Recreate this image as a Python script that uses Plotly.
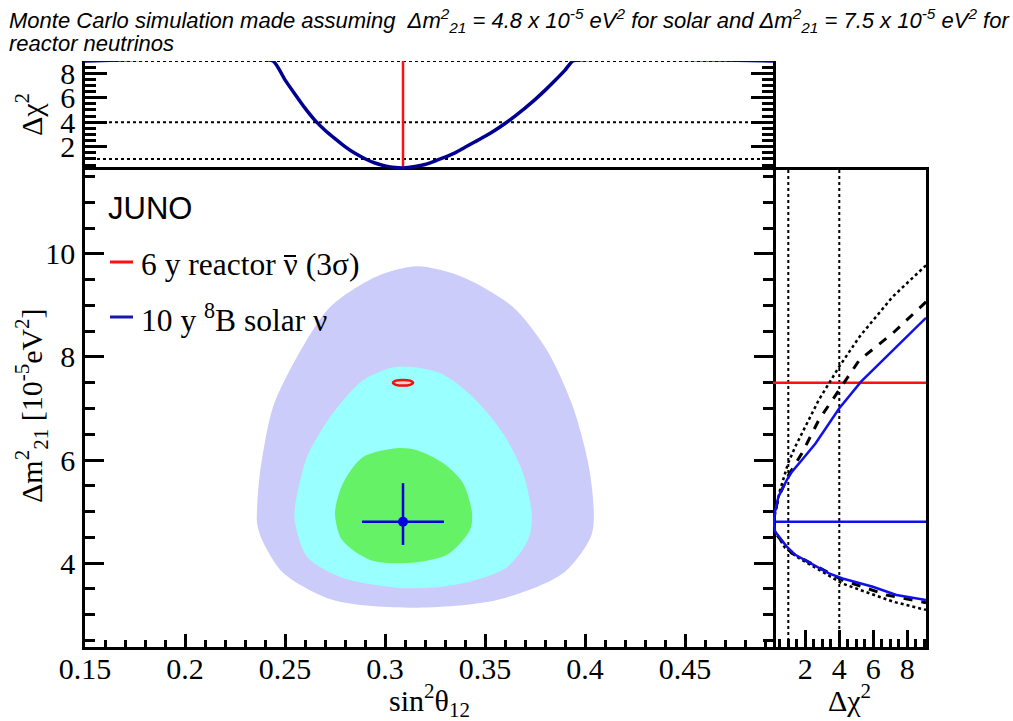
import plotly.graph_objects as go

# ---------------- data ----------------
# Solar Δχ² profile along sin²θ12 (top panel, drawn clamped at the frame top)
s12_profile = [0.15, 0.244, 0.25, 0.255, 0.26, 0.265, 0.27, 0.275, 0.28, 0.285, 0.29,
               0.295, 0.30, 0.305, 0.309, 0.315, 0.32, 0.326, 0.33, 0.335, 0.34, 0.345,
               0.35, 0.355, 0.36, 0.365, 0.37, 0.375, 0.38, 0.385, 0.39, 0.394, 0.494]
chi2_s12 = [9.0, 9.0, 7.46, 6.29, 5.15, 4.15, 3.35, 2.66, 2.01, 1.46, 1.02,
            0.67, 0.44, 0.30, 0.27, 0.38, 0.55, 0.9, 1.15, 1.5, 1.95, 2.4,
            2.85, 3.35, 3.9, 4.5, 5.15, 5.85, 6.6, 7.4, 8.25, 9.0, 9.0]

# Best-fit points
solar_best_s12 = 0.309
solar_best_dm = 4.8
solar_err_s12 = 0.0205
solar_err_dm_up = 0.75
solar_err_dm_down = 0.45
reactor_best_s12 = 0.309
reactor_best_dm = 7.5

# Solar allowed regions (sin²θ12, Δm²21)
outer_s12 = [0.316, 0.339, 0.364, 0.381, 0.394, 0.4025, 0.4035, 0.389, 0.356, 0.314,
             0.274, 0.249, 0.2385, 0.236, 0.236, 0.2375, 0.244, 0.256, 0.2725, 0.295, 0.316]
outer_dm = [9.76, 9.55, 8.97, 8.13, 7.03, 5.75, 4.58, 3.8, 3.28, 3.13,
            3.28, 3.81, 4.45, 4.78, 5.03, 5.75, 7.03, 8.0, 8.97, 9.55, 9.76]
middle_s12 = [0.306, 0.3275, 0.344, 0.359, 0.369, 0.3735, 0.3715, 0.361, 0.339, 0.311,
              0.2775, 0.261, 0.255, 0.255, 0.261, 0.2725, 0.289, 0.306]
middle_dm = [7.81, 7.69, 7.22, 6.52, 5.75, 4.89, 4.45, 3.92, 3.61, 3.51,
             3.73, 4.12, 4.78, 5.09, 6.06, 6.83, 7.55, 7.81]
inner_s12 = [0.306, 0.316, 0.329, 0.339, 0.3435, 0.3425, 0.331, 0.311, 0.2925, 0.2785,
             0.275, 0.279, 0.289, 0.306]
inner_dm = [6.23, 6.19, 5.94, 5.55, 4.97, 4.64, 4.16, 4.0, 4.06, 4.45,
            4.97, 5.55, 6.06, 6.23]

# Reactor 3σ contour
reactor_s12 = [0.304, 0.3055, 0.309, 0.3125, 0.314, 0.3125, 0.309, 0.3055, 0.304]
reactor_dm = [7.5, 7.54, 7.555, 7.54, 7.5, 7.46, 7.445, 7.46, 7.5]

# Δχ² profiles along Δm²21 (right panel)
solid_chi2 = [9.1, 7.16, 5.28, 3.99, 2.6, 1.8, 1.21, 0.91, 0.42, 0.22, 0.15,
              0.22, 0.91, 1.41, 3.39, 4.19, 5.97, 7.36, 9.1]
solid_dm = [8.76, 8.14, 7.52, 7.0, 6.32, 6.0, 5.77, 5.61, 5.29, 5.0, 4.8,
            4.61, 4.32, 4.16, 3.80, 3.70, 3.54, 3.38, 3.28]
dashed_chi2 = [9.1, 7.14, 5.18, 4.0, 2.8, 1.8, 1.0, 0.45, 0.22, 0.15,
               0.2, 0.9, 1.21, 4.19, 6.77, 9.1]
dashed_dm = [9.07, 8.46, 7.94, 7.36, 6.78, 6.13, 5.7, 5.3, 5.0, 4.8,
             4.6, 4.3, 4.19, 3.67, 3.38, 3.23]
dotted_chi2 = [9.1, 7.14, 5.18, 3.99, 2.8, 1.41, 1.0, 0.5, 0.22, 0.15,
               0.2, 0.8, 1.61, 4.19, 7.16, 9.1]
dotted_dm = [9.78, 9.17, 8.39, 7.81, 7.17, 6.26, 5.95, 5.4, 4.95, 4.8,
             4.62, 4.3, 4.1, 3.6, 3.25, 3.09]

# Confidence levels marked on the Δχ² axes
chi2_levels = [1, 4, 9]

# Axis ranges
s12_range = [0.15, 0.494]
dm_range = [2.37, 11.63]
chi2_top_range = [0.1, 9.0]
chi2_right_range = [0.1, 9.1]

# ---------------- layout helpers ----------------
W, H = 1013, 721


def px(x):
    return x / W


def py(y):
    return 1 - y / H


X_MAIN = [px(85), px(773)]
X_RIGHT = [px(773), px(926)]
Y_MAIN = [py(647), py(170)]
Y_TOP = [py(170), py(61)]

SERIF = "Liberation Serif, Times New Roman, serif"
SANS = "Liberation Sans, Arial, sans-serif"
tick_font = dict(family=SERIF, size=30, color="black")

fig = go.Figure()

# ---- main panel: solar regions ----
for xs, ys, col in [(outer_s12, outer_dm, "#CCCCFA"),
                    (middle_s12, middle_dm, "#99FFFF"),
                    (inner_s12, inner_dm, "#66F266")]:
    fig.add_trace(go.Scatter(x=xs, y=ys, mode="lines", fill="toself", fillcolor=col,
                             line=dict(width=0, color=col, shape="spline", smoothing=0.8),
                             xaxis="x", yaxis="y", showlegend=False, hoverinfo="skip"))

fig.add_trace(go.Scatter(x=reactor_s12, y=reactor_dm, mode="lines", fill="toself",
                         fillcolor="#FFD0D0",
                         line=dict(width=2.5, color="#EE1111", shape="spline", smoothing=1.0),
                         xaxis="x", yaxis="y", showlegend=False, hoverinfo="skip"))

fig.add_trace(go.Scatter(
    x=[solar_best_s12], y=[solar_best_dm], mode="markers",
    marker=dict(size=10, color="#0000DD"),
    error_x=dict(type="data", array=[solar_err_s12], color="#0000DD", thickness=2.5, width=0),
    error_y=dict(type="data", symmetric=False, array=[solar_err_dm_up],
                 arrayminus=[solar_err_dm_down], color="#0000DD", thickness=2.5, width=0),
    xaxis="x", yaxis="y", showlegend=False, hoverinfo="skip"))

# ---- top panel: Δχ² vs sin²θ12 ----
for lev in chi2_levels:
    fig.add_trace(go.Scatter(x=s12_range, y=[lev, lev], mode="lines",
                             line=dict(color="black", width=2, dash="dot"),
                             xaxis="x2", yaxis="y2", showlegend=False, hoverinfo="skip"))
fig.add_trace(go.Scatter(x=[reactor_best_s12, reactor_best_s12], y=[min(chi2_s12), chi2_top_range[1]],
                         mode="lines", line=dict(color="#FF1010", width=2.5),
                         xaxis="x2", yaxis="y2", showlegend=False, hoverinfo="skip"))
fig.add_trace(go.Scatter(x=s12_profile, y=chi2_s12, mode="lines",
                         line=dict(color="#000090", width=3.5, shape="spline", smoothing=0.4),
                         xaxis="x2", yaxis="y2", showlegend=False, hoverinfo="skip"))

# ---- right panel: Δχ² vs Δm²21 ----
for lev in chi2_levels[:2]:
    fig.add_trace(go.Scatter(x=[lev, lev], y=dm_range, mode="lines",
                             line=dict(color="black", width=2, dash="dot"),
                             xaxis="x3", yaxis="y3", showlegend=False, hoverinfo="skip"))
fig.add_trace(go.Scatter(x=chi2_right_range, y=[reactor_best_dm, reactor_best_dm], mode="lines",
                         line=dict(color="#FF1010", width=2.5),
                         xaxis="x3", yaxis="y3", showlegend=False, hoverinfo="skip"))
fig.add_trace(go.Scatter(x=chi2_right_range, y=[solar_best_dm, solar_best_dm], mode="lines",
                         line=dict(color="#1010EE", width=2.5),
                         xaxis="x3", yaxis="y3", showlegend=False, hoverinfo="skip"))
fig.add_trace(go.Scatter(x=dotted_chi2, y=dotted_dm, mode="lines",
                         line=dict(color="black", width=2.5, dash="dot"),
                         xaxis="x3", yaxis="y3", showlegend=False, hoverinfo="skip"))
fig.add_trace(go.Scatter(x=dashed_chi2, y=dashed_dm, mode="lines",
                         line=dict(color="black", width=3, dash="dash"),
                         xaxis="x3", yaxis="y3", showlegend=False, hoverinfo="skip"))
fig.add_trace(go.Scatter(x=solid_chi2, y=solid_dm, mode="lines",
                         line=dict(color="#1010EE", width=2.5),
                         xaxis="x3", yaxis="y3", showlegend=False, hoverinfo="skip"))

axis_common = dict(showgrid=False, zeroline=False, linecolor="black", linewidth=2.5,
                   tickcolor="black", tickwidth=2.5, tickfont=tick_font, automargin=False)

fig.update_layout(
    width=W, height=H, autosize=False,
    margin=dict(l=0, r=0, t=0, b=0, pad=0),
    paper_bgcolor="white", plot_bgcolor="white",
    showlegend=False,
    xaxis=dict(domain=X_MAIN, range=s12_range, anchor="y", showline=True, mirror=True,
               ticks="inside", tick0=0.15, dtick=0.05, ticklen=13, ticklabelstandoff=-7,
               tickformat="~g",
               minor=dict(ticks="inside", dtick=0.01, ticklen=7, tickwidth=2.5, tickcolor="black"),
               **axis_common),
    yaxis=dict(domain=Y_MAIN, range=dm_range, anchor="x", showline=True, mirror="ticks",
               ticks="inside", tick0=0, dtick=2, ticklen=19, ticklabelstandoff=1,
               minor=dict(ticks="inside", dtick=0.5, ticklen=10, tickwidth=2.5, tickcolor="black"),
               **axis_common),
    xaxis2=dict(domain=X_MAIN, range=s12_range, anchor="y2", showline=False,
                ticks="", showticklabels=False, **axis_common),
    yaxis2=dict(domain=Y_TOP, range=chi2_top_range, anchor="x2", showline=True, mirror="ticks",
                ticks="inside", tick0=0, dtick=2, ticklen=22, ticklabelstandoff=1,
                minor=dict(ticks="inside", dtick=0.5, ticklen=11, tickwidth=2.5, tickcolor="black"),
                **axis_common),
    xaxis3=dict(domain=X_RIGHT, range=chi2_right_range, anchor="y3", showline=True, mirror=True,
                ticks="inside", tick0=0, dtick=2, ticklen=17, ticklabelstandoff=-7,
                minor=dict(ticks="inside", dtick=0.5, ticklen=8, tickwidth=2.5, tickcolor="black"),
                **axis_common),
    yaxis3=dict(domain=Y_MAIN, range=dm_range, anchor="x3", side="right", showline=True, mirror=False,
                ticks="", showticklabels=False, **axis_common),
)

# Legend inside the main panel
fig.add_shape(type="line", xref="paper", yref="paper", x0=px(110), x1=px(133), y0=py(262), y1=py(262),
              line=dict(color="#FF1010", width=3))
fig.add_shape(type="line", xref="paper", yref="paper", x0=px(110), x1=px(133), y0=py(317), y1=py(317),
              line=dict(color="#1818B0", width=3))
# bar over the antineutrino symbol
fig.add_shape(type="line", xref="paper", yref="paper", x0=px(284), x1=px(296), y0=py(256), y1=py(256),
              line=dict(color="black", width=2))

annotations = [
    dict(text="JUNO", x=px(106), y=py(208), xanchor="left", yanchor="middle",
         font=dict(family=SANS, size=31, color="black")),
    dict(text="6 y reactor ν (3σ)",
         x=px(139), y=py(264), xanchor="left", yanchor="middle",
         font=dict(family=SERIF, size=31.5, color="black")),
    dict(text="10 y <sup>8</sup>B solar ν", x=px(139), y=py(318), xanchor="left", yanchor="middle",
         font=dict(family=SERIF, size=31.5, color="black")),
    # axis titles
    dict(text="sin<sup>2</sup>θ<sub>12</sub>", x=px(429), y=py(700), xanchor="center", yanchor="middle",
         font=dict(family=SERIF, size=30, color="black")),
    dict(text="Δχ<sup>2</sup>", x=px(849), y=py(698), xanchor="center", yanchor="middle",
         font=dict(family=SERIF, size=30, color="black")),
    dict(text="Δχ<sup>2</sup>", x=px(29), y=py(115), xanchor="center", yanchor="middle", textangle=-90,
         font=dict(family=SERIF, size=30, color="black")),
    dict(text="Δm<sup>2</sup><sub>21</sub> [10<sup>-5</sup>eV<sup>2</sup>]", x=px(31), y=py(406),
         xanchor="center", yanchor="middle", textangle=-90,
         font=dict(family=SERIF, size=30, color="black")),
    # caption
    dict(text="Monte Carlo simulation made assuming  Δm<sup>2</sup><sub>21</sub> = 4.8 x 10<sup>-5</sup> eV<sup>2</sup>"
              " for solar and Δm<sup>2</sup><sub>21</sub> = 7.5 x 10<sup>-5</sup> eV<sup>2</sup> for",
         x=px(7), y=py(21), xanchor="left", yanchor="middle",
         font=dict(family=SANS, size=22, color="black", style="italic")),
    dict(text="reactor neutrinos", x=px(7), y=py(44), xanchor="left", yanchor="middle",
         font=dict(family=SANS, size=22, color="black", style="italic")),
]
for a in annotations:
    a.update(xref="paper", yref="paper", showarrow=False)
    fig.add_annotation(**a)

fig.write_html("out.html")
